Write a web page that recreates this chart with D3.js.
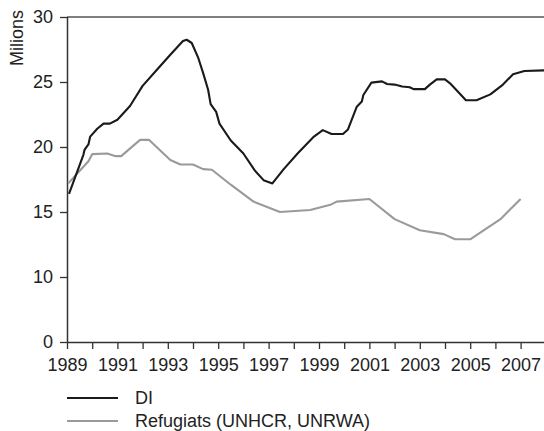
<!DOCTYPE html>
<html>
<head>
<meta charset="utf-8">
<script src="https://cdn.jsdelivr.net/npm/d3@7"></script>
<style>
  html, body { margin: 0; padding: 0; background: #fff; }
  svg { display: block; }
  text { font-family: "Liberation Sans", Arial, sans-serif; fill: #222; }
</style>
</head>
<body>
<svg id="chart" width="544" height="431"></svg>
<script>
// ---- Data ----
const diYears = [1989.08, 1989.65, 1989.7, 1989.85, 1989.92, 1990.2, 1990.45, 1990.7, 1991.0, 1991.5,
  1992.0, 1992.55, 1993.1, 1993.6, 1993.75, 1993.95, 1994.2, 1994.4, 1994.6, 1994.7,
  1994.92, 1995.05, 1995.5, 1996.0, 1996.45, 1996.8, 1997.15, 1997.6, 1998.15, 1998.8,
  1999.15, 1999.5, 1999.95, 2000.15, 2000.3, 2000.5, 2000.7, 2000.76, 2001.08, 2001.5,
  2001.7, 2002.0, 2002.3, 2002.6, 2002.75, 2003.2, 2003.4, 2003.67, 2004.0, 2004.2,
  2004.83, 2005.25, 2005.8, 2006.3, 2006.7, 2007.15, 2008.0];
const diValues = [16.4, 19.4, 19.8, 20.2, 20.8, 21.4, 21.8, 21.8, 22.1, 23.15,
  24.7, 25.9, 27.1, 28.15, 28.25, 28.0, 26.9, 25.7, 24.4, 23.3,
  22.7, 21.8, 20.5, 19.5, 18.2, 17.45, 17.2, 18.3, 19.5, 20.8,
  21.3, 21.0, 21.0, 21.35, 22.1, 23.1, 23.5, 24.0, 24.95, 25.05,
  24.85, 24.8, 24.65, 24.6, 24.45, 24.45, 24.8, 25.2, 25.2, 24.9,
  23.6, 23.6, 24.05, 24.8, 25.6, 25.85, 25.9];

const refYears = [1989.05, 1989.85, 1990.0, 1990.6, 1990.9, 1991.15, 1991.9, 1992.25, 1993.1, 1993.5,
  1994.0, 1994.4, 1994.75, 1995.5, 1996.4, 1997.45, 1998.65, 1999.45, 1999.7, 2001.0,
  2002.0, 2003.0, 2003.95, 2004.4, 2005.0, 2006.2, 2007.0];
const refValues = [17.2, 18.9, 19.45, 19.5, 19.3, 19.3, 20.55, 20.55, 19.0, 18.65,
  18.65, 18.3, 18.25, 17.1, 15.8, 15.0, 15.15, 15.55, 15.8, 16.0,
  14.45, 13.6, 13.3, 12.9, 12.9, 14.45, 16.0];

const xTickYears = d3.range(1989, 2008);
const yTickValues = [0, 10, 15, 20, 25, 30];
const seriesNames = ["DI", "Refugiats (UNHCR, UNRWA)"];
const yAxisTitle = "Milions";

// ---- Layout ----
const svg = d3.select("#chart");
const mLeft = 67, mTop = 17, mBottom = 342;
const yearPx = 25.2;
const fontSize = 18;

const x = d3.scaleLinear().domain([1989, 2008]).range([mLeft, mLeft + 19 * yearPx]);
// axis as drawn in the reference: 0–10 compressed, 10–30 regular
const y = d3.scaleLinear().domain([0, 10, 30]).range([mBottom, 277, mTop]);

// top frame line
svg.append("line")
  .attr("x1", mLeft).attr("x2", 544)
  .attr("y1", mTop).attr("y2", mTop)
  .attr("stroke", "#555").attr("stroke-width", 1.5);

// x axis
const xAxis = svg.append("g")
  .attr("transform", `translate(0,${mBottom})`)
  .call(d3.axisBottom(x)
    .tickValues(xTickYears)
    .tickSize(7)
    .tickPadding(9)
    .tickFormat(d => (d - 1989) % 2 === 0 ? String(d) : ""));
xAxis.select(".domain").attr("d", `M${mLeft},0.5H544`).attr("stroke", "#333").attr("stroke-width", 1.5);
xAxis.selectAll(".tick line").attr("stroke", "#333").attr("stroke-width", 1.3);
xAxis.selectAll(".tick text").attr("font-size", fontSize).attr("fill", "#222")
  .attr("font-family", '"Liberation Sans", Arial, sans-serif');

// y axis
const yAxis = svg.append("g")
  .attr("transform", `translate(${mLeft},0)`)
  .call(d3.axisLeft(y)
    .tickValues(yTickValues)
    .tickSize(7)
    .tickPadding(7)
    .tickFormat(d3.format("d")));
yAxis.select(".domain").attr("d", `M0.5,${mTop}V${mBottom}`).attr("stroke", "#333").attr("stroke-width", 1.5);
yAxis.selectAll(".tick line").attr("stroke", "#333").attr("stroke-width", 1.3);
yAxis.selectAll(".tick text").attr("font-size", fontSize).attr("fill", "#222")
  .attr("font-family", '"Liberation Sans", Arial, sans-serif');

// y title
svg.append("text")
  .attr("transform", "translate(23,10) rotate(-90)")
  .attr("text-anchor", "end")
  .attr("font-size", fontSize)
  .text(yAxisTitle);

// lines
const diData = diYears.map((yr, i) => ({ x: yr, v: diValues[i] }));
const refData = refYears.map((yr, i) => ({ x: yr, v: refValues[i] }));
const line = d3.line().x(d => x(d.x)).y(d => y(d.v)).curve(d3.curveLinear);

svg.append("path").datum(refData)
  .attr("d", line).attr("fill", "none")
  .attr("stroke", "#9a9a9a").attr("stroke-width", 2.1).attr("stroke-linejoin", "round");
svg.append("path").datum(diData)
  .attr("d", line).attr("fill", "none")
  .attr("stroke", "#1a1a1a").attr("stroke-width", 2.1).attr("stroke-linejoin", "round");

// legend
const legendColors = ["#1a1a1a", "#9a9a9a"];
const legend = svg.append("g");
seriesNames.forEach((name, i) => {
  const ly = 398 + i * 23;
  legend.append("line")
    .attr("x1", 67).attr("x2", 118).attr("y1", ly).attr("y2", ly)
    .attr("stroke", legendColors[i]).attr("stroke-width", 2.1);
  legend.append("text")
    .attr("x", 135).attr("y", ly + 6)
    .attr("font-size", fontSize)
    .text(name);
});
</script>
</body>
</html>
